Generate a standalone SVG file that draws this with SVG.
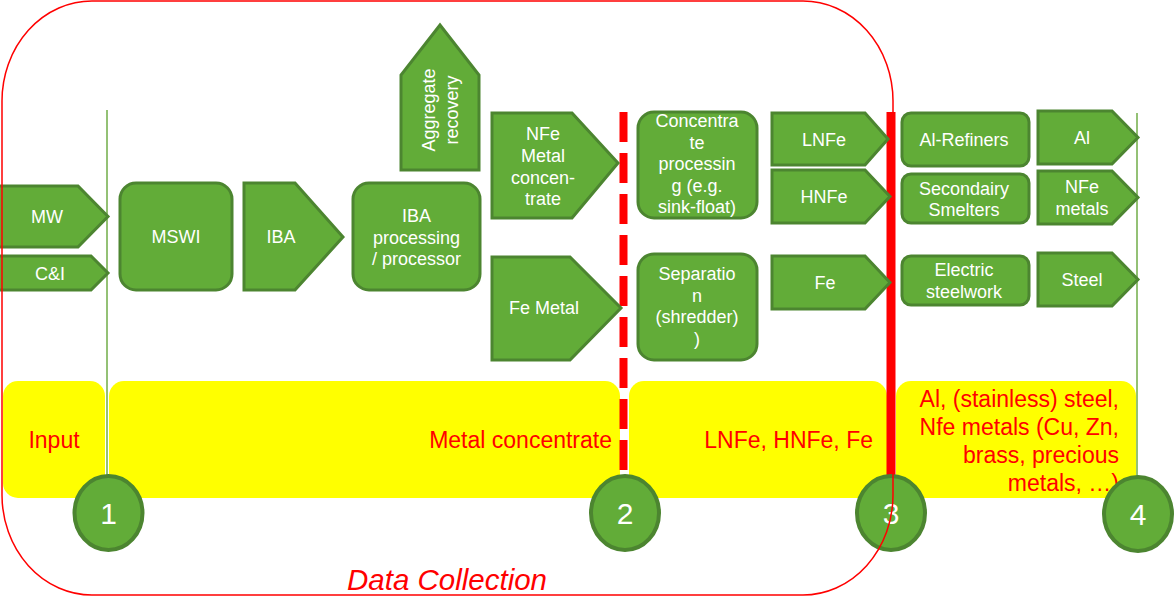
<svg xmlns="http://www.w3.org/2000/svg" width="1176" height="597" viewBox="0 0 1176 597">
<style>
.n{fill:#62AC38;stroke:#4C8530;stroke-width:3;stroke-linejoin:miter}
.t{font-family:"Liberation Sans",Arial,sans-serif;font-size:18px;fill:#fff;text-anchor:middle}
.y{fill:#FFFF00}
.lbl{font-family:"Liberation Sans",Arial,sans-serif;font-size:23px;fill:#FF0000}
.c{fill:#62AC38;stroke:#4C8530;stroke-width:4}
.num{font-family:"Liberation Sans",Arial,sans-serif;font-size:30px;fill:#fff;text-anchor:middle}
.gl{stroke:#70AD47;stroke-width:1.5;fill:none}
</style>
<rect width="1176" height="597" fill="#fff"/>
<g id="bands">
<rect class="y" x="3" y="381" width="102" height="117" rx="15"/>
<rect class="y" x="109" y="381" width="511" height="117" rx="15"/>
<rect class="y" x="629" y="381" width="258" height="117" rx="15"/>
<rect class="y" x="896" y="381" width="240" height="117" rx="15"/>
<text class="lbl" x="54" y="448" text-anchor="middle">Input</text>
<text class="lbl" x="612" y="448" text-anchor="end">Metal concentrate</text>
<text class="lbl" x="873" y="448" text-anchor="end">LNFe, HNFe, Fe</text>
<text class="lbl" text-anchor="end"><tspan x="1119" y="407">Al, (stainless) steel,</tspan><tspan x="1119" y="435">Nfe metals (Cu, Zn,</tspan><tspan x="1119" y="463">brass, precious</tspan><tspan x="1119" y="491">metals, …)</tspan></text>
</g>
<g id="connectors">
<line class="gl" x1="107" y1="110" x2="107" y2="478"/>
<line class="gl" x1="1137" y1="113" x2="1137" y2="478"/>
<line x1="623.5" y1="112" x2="623.5" y2="470" stroke="#FF0000" stroke-width="8" stroke-dasharray="30 11"/>
<line x1="891" y1="112" x2="891" y2="478" stroke="#FF0000" stroke-width="9"/>
</g>
<g id="mw"><polygon class="n" points="-3,186 78,186 108,216.5 78,247 -3,247"/><text class="t" x="47" y="223">MW</text></g>
<g id="ci"><polygon class="n" points="-3,256 91,256 108,273 91,290 -3,290"/><text class="t" x="50" y="280">C&amp;I</text></g>
<g id="mswi"><rect class="n" x="120" y="183" width="112" height="107" rx="16"/><text class="t" x="176" y="243">MSWI</text></g>
<g id="iba"><polygon class="n" points="244,183 295,183 343,237 295,290 244,290"/><text class="t" x="281" y="243">IBA</text></g>
<g id="aggregate"><polygon class="n" points="401,170 401,75 440,25 479,75 479,170"/><text class="t" transform="translate(440,110) rotate(-90)"><tspan x="0" y="-5.5">Aggregate</tspan><tspan x="0" y="18">recovery</tspan></text></g>
<g id="iba-processing"><rect class="n" x="353" y="183" width="127" height="107" rx="16"/><text class="t"><tspan x="416.5" y="222">IBA</tspan><tspan x="416.5" y="243.5">processing</tspan><tspan x="416.5" y="265">/ processor</tspan></text></g>
<g id="nfe-concentrate"><polygon class="n" points="492,113 572,113 618,163 572,218 492,218"/><text class="t"><tspan x="543" y="140">NFe</tspan><tspan x="543" y="162">Metal</tspan><tspan x="543" y="183.5">concen-</tspan><tspan x="543" y="205">trate</tspan></text></g>
<g id="fe-metal"><polygon class="n" points="492,257 570,257 621,308 570,360 492,360"/><text class="t" x="544" y="313.5">Fe Metal</text></g>
<g id="concentrate-processing"><rect class="n" x="638" y="112" width="119" height="106" rx="16"/><text class="t"><tspan x="697" y="127">Concentra</tspan><tspan x="697" y="148.5">te</tspan><tspan x="697" y="170">processin</tspan><tspan x="697" y="191.5">g (e.g.</tspan><tspan x="697" y="213">sink-float)</tspan></text></g>
<g id="separation"><rect class="n" x="638" y="254" width="119" height="106" rx="16"/><text class="t"><tspan x="697" y="280">Separatio</tspan><tspan x="697" y="301.5">n</tspan><tspan x="697" y="323">(shredder)</tspan><tspan x="697" y="344.5">)</tspan></text></g>
<g id="lnfe"><polygon class="n" points="772,113 865,113 888,139 865,165 772,165"/><text class="t" x="824" y="146">LNFe</text></g>
<g id="hnfe"><polygon class="n" points="772,170 865,170 890,196.5 865,223 772,223"/><text class="t" x="824" y="202.5">HNFe</text></g>
<g id="fe"><polygon class="n" points="772,256 865,256 890,282.5 865,309 772,309"/><text class="t" x="825" y="288.5">Fe</text></g>
<g id="al-refiners"><rect class="n" x="902" y="113" width="127" height="53" rx="9"/><text class="t" x="964" y="146">Al-Refiners</text></g>
<g id="secondary-smelters"><rect class="n" x="902" y="174" width="127" height="49" rx="9"/><text class="t"><tspan x="964" y="195">Secondairy</tspan><tspan x="964" y="216">Smelters</tspan></text></g>
<g id="electric-steelwork"><rect class="n" x="902" y="256" width="127" height="49" rx="9"/><text class="t"><tspan x="964" y="276">Electric</tspan><tspan x="964" y="297.5">steelwork</tspan></text></g>
<g id="al"><polygon class="n" points="1038,111 1112,111 1138,137.5 1112,164 1038,164"/><text class="t" x="1082" y="144">Al</text></g>
<g id="nfe-metals"><polygon class="n" points="1038,171 1112,171 1138,197.5 1112,224 1038,224"/><text class="t"><tspan x="1082" y="193">NFe</tspan><tspan x="1082" y="215">metals</tspan></text></g>
<g id="steel"><polygon class="n" points="1038,253 1112,253 1138,279.5 1112,306 1038,306"/><text class="t" x="1082" y="286">Steel</text></g>
<g id="c1"><ellipse class="c" cx="108.5" cy="513" rx="34" ry="37"/><text class="num" x="108.5" y="524">1</text></g>
<g id="c2"><ellipse class="c" cx="625" cy="513" rx="34" ry="37"/><text class="num" x="625" y="524">2</text></g>
<g id="c3"><ellipse class="c" cx="891" cy="513" rx="34" ry="37"/><text class="num" x="891" y="524">3</text></g>
<g id="c4"><ellipse class="c" cx="1138" cy="514" rx="34" ry="37"/><text class="num" x="1138" y="525">4</text></g>
<g id="data-collection">
<rect x="2" y="1" width="891" height="594" rx="90" ry="100" fill="none" stroke="#FF0000" stroke-width="1.5"/>
<text x="447" y="590" font-family="'Liberation Sans',Arial,sans-serif" font-size="29.5" font-style="italic" fill="#FF0000" text-anchor="middle">Data Collection</text>
</g>
</svg>
